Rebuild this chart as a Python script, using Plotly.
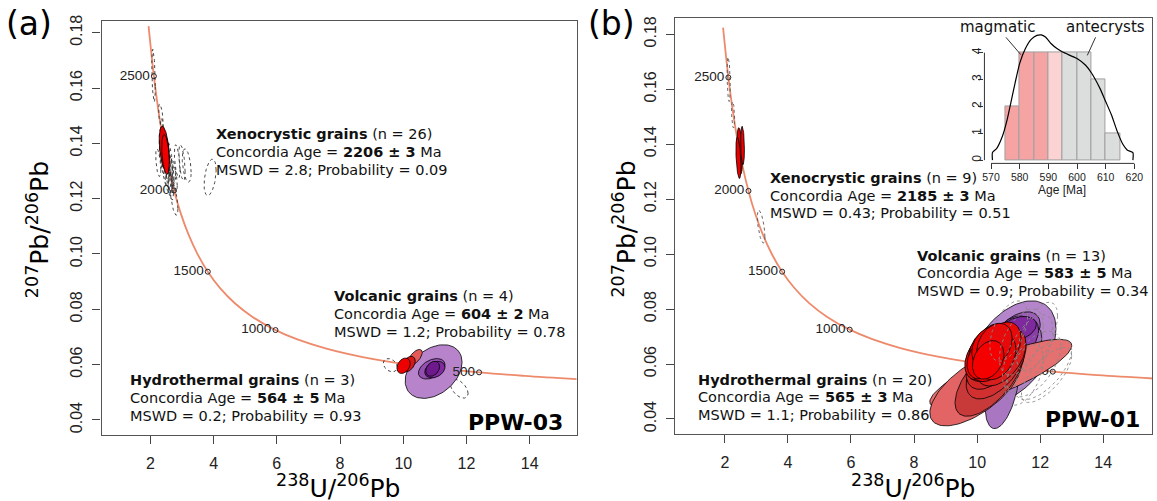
import numpy as np
import plotly.graph_objects as go

W, H = 1157, 501

# ---------------- concordia curve (Tera-Wasserburg) ----------------
conc_age = [2675, 2650, 2500, 2375, 2250, 2125, 2000, 1875, 1750, 1625, 1500, 1375,
            1250, 1125, 1000, 900, 800, 700, 600, 500, 450, 400]
conc_x = [1.944, 1.967, 2.111, 2.245, 2.394, 2.561, 2.749, 2.962, 3.206, 3.488, 3.817, 4.206,
          4.673, 5.245, 5.959, 6.674, 7.569, 8.718, 10.252, 12.399, 13.831, 15.621]
conc_y = [0.1824, 0.17968, 0.16428, 0.15258, 0.14187, 0.13202, 0.12299, 0.11469, 0.10706,
          0.10005, 0.09360, 0.08766, 0.08218, 0.07715, 0.07250, 0.06904, 0.06580, 0.06276,
          0.05990, 0.05722, 0.05594, 0.05470]

mark_age = ["2500", "2000", "1500", "1000", "500"]
mark_x = [2.111, 2.749, 3.817, 5.959, 12.399]
mark_y = [0.16428, 0.12299, 0.09360, 0.07250, 0.05722]

x_ticks = [2, 4, 6, 8, 10, 12, 14]
y_ticks = [0.04, 0.06, 0.08, 0.10, 0.12, 0.14, 0.16, 0.18]
y_tick_text = ["0.04", "0.06", "0.08", "0.10", "0.12", "0.14", "0.16", "0.18"]

# ---------------- panel (a) PPW-03 ellipses ----------------
a_xd_cx = [2.10, 2.33, 2.38, 2.45, 2.50, 2.55, 2.40, 2.60, 2.52, 2.62, 2.47, 2.68,
           2.58, 2.72, 2.85, 3.00, 3.15, 2.25, 2.58, 2.75, 2.65, 2.78, 3.89, 2.36]
a_xd_cy = [0.1645, 0.1500, 0.1440, 0.1400, 0.1380, 0.1360, 0.1350, 0.1340, 0.1320, 0.1310,
           0.1300, 0.1295, 0.1280, 0.1300, 0.1335, 0.1330, 0.1320, 0.1330, 0.1265, 0.1200,
           0.1245, 0.1270, 0.1277, 0.1390]
a_xd_sx = [0.055, 0.07, 0.06, 0.10, 0.09, 0.08, 0.12, 0.10, 0.09, 0.08, 0.10, 0.07,
           0.09, 0.08, 0.09, 0.10, 0.14, 0.08, 0.12, 0.12, 0.08, 0.07, 0.19, 0.08]
a_xd_sy = [0.0095, 0.0042, 0.0050, 0.0060, 0.0055, 0.0060, 0.0070, 0.0065, 0.0060, 0.0055,
           0.0058, 0.0050, 0.0060, 0.0045, 0.0060, 0.0065, 0.0060, 0.0050, 0.0055, 0.0060,
           0.0050, 0.0045, 0.0066, 0.0060]
a_xd_r = [-0.4, -0.5, -0.5, -0.6, -0.5, -0.6, -0.6, -0.5, -0.55, -0.5, -0.6, -0.5,
          -0.6, -0.4, -0.5, -0.5, -0.4, -0.5, -0.5, -0.6, -0.5, -0.5, 0.4, -0.5]

a_xr_cx = [2.44, 2.48]
a_xr_cy = [0.1380, 0.1360]
a_xr_sx = [0.16, 0.12]
a_xr_sy = [0.0082, 0.0072]
a_xr_r = [-0.4, -0.35]
a_xr_col = ["#e00000", "#f00000"]

a_vd_cx = [9.59, 11.77]
a_vd_cy = [0.0598, 0.0513]
a_vd_sx = [0.22, 0.28]
a_vd_sy = [0.0024, 0.0034]
a_vd_r = [-0.3, -0.5]

a_v_cx = [10.96, 10.90, 11.00, 10.93]
a_v_cy = [0.0575, 0.0585, 0.0582, 0.0585]
a_v_sx = [0.90, 0.42, 0.32, 0.22]
a_v_sy = [0.0097, 0.0037, 0.0030, 0.0027]
a_v_r = [0.35, 0.4, 0.3, 0.3]
a_v_col = ["#b784cc", "#9450b0", "#7f2a9e", "#6e1a8c"]

a_h_cx = [10.38, 10.17, 10.01]
a_h_cy = [0.0627, 0.0602, 0.0596]
a_h_sx = [0.22, 0.21, 0.21]
a_h_sy = [0.0028, 0.0028, 0.0028]
a_h_r = [0.6, 0.4, 0.3]
a_h_col = ["#e45a5a", "#d61515", "#ee0000"]

# ---------------- panel (b) PPW-01 ellipses ----------------
b_xd_cx = [2.12, 2.26, 3.15]
b_xd_cy = [0.1636, 0.1507, 0.1100]
b_xd_sx = [0.05, 0.05, 0.12]
b_xd_sy = [0.0081, 0.0048, 0.0060]
b_xd_r = [-0.3, -0.3, -0.6]

b_xr_cx = [2.47, 2.56, 2.43]
b_xr_cy = [0.1375, 0.1395, 0.1350]
b_xr_sx = [0.09, 0.06, 0.08]
b_xr_sy = [0.0085, 0.0070, 0.0075]
b_xr_r = [-0.3, -0.2, -0.4]
b_xr_col = ["#d80000", "#ee0000", "#e60000"]

b_v_cx = [11.10, 10.80, 10.60, 11.20, 11.00, 11.50, 11.10, 10.70, 10.90, 11.40, 10.60, 10.95, 11.28]
b_v_cy = [0.0645, 0.0520, 0.0580, 0.0700, 0.0680, 0.0650, 0.0620, 0.0600, 0.0665, 0.0690, 0.0630, 0.0590, 0.0728]
b_v_sx = [1.40, 0.55, 0.65, 0.80, 0.70, 0.55, 0.60, 0.60, 0.60, 0.55, 0.55, 0.50, 0.60]
b_v_sy = [0.0185, 0.0155, 0.0105, 0.0090, 0.0095, 0.0090, 0.0090, 0.0095, 0.0080, 0.0075, 0.0080, 0.0075, 0.0045]
b_v_r = [0.45, 0.45, 0.50, 0.50, 0.50, 0.50, 0.50, 0.45, 0.45, 0.45, 0.40, 0.45, 0.35]
b_v_col = ["#b585cb", "#a977c2", "#ad75c3", "#9b5db5", "#a26cbc", "#a56abd", "#a062ba",
           "#9a58b4", "#8f47ab", "#8a3fa8", "#9450ae", "#8c44a9", "#7e2a9e"]

b_h_cx = [10.75, 9.95, 10.40, 10.60, 10.50, 10.75, 10.35, 10.60, 10.45, 10.25,
          10.75, 10.40, 10.55, 10.30, 10.45, 10.65, 10.20, 10.35, 10.55, 10.35]
b_h_cy = [0.0565, 0.0510, 0.0550, 0.0595, 0.0620, 0.0625, 0.0635, 0.0645, 0.0655, 0.0630,
          0.0665, 0.0620, 0.0640, 0.0650, 0.0635, 0.0625, 0.0620, 0.0660, 0.0670, 0.0615]
b_h_sx = [2.25, 1.45, 1.10, 0.95, 0.85, 0.80, 0.72, 0.70, 0.66, 0.64,
          0.64, 0.62, 0.60, 0.56, 0.55, 0.58, 0.52, 0.52, 0.56, 0.50]
b_h_sy = [0.0125, 0.0135, 0.0140, 0.0122, 0.0112, 0.0105, 0.0098, 0.0095, 0.0092, 0.0088,
          0.0088, 0.0084, 0.0082, 0.0080, 0.0078, 0.0082, 0.0074, 0.0074, 0.0078, 0.0070]
b_h_r = [0.82, 0.65, 0.65, 0.55, 0.50, 0.45, 0.40, 0.40, 0.35, 0.40,
         0.35, 0.35, 0.30, 0.30, 0.30, 0.35, 0.30, 0.25, 0.30, 0.30]
b_h_col = ["#e57070", "#e36464", "#c83a3a", "#d23030", "#cf2525", "#d91e1e", "#e01515",
           "#e31010", "#e50c0c", "#e80808", "#e60a0a", "#ec0505", "#ee0303", "#f00000",
           "#f00000", "#ea0505", "#f20000", "#f20000", "#e80a0a", "#f40000"]

b_d_cx = [11.60, 11.80, 11.40, 12.10, 11.00, 11.90, 12.20, 11.50]
b_d_cy = [0.0640, 0.0600, 0.0680, 0.0580, 0.0720, 0.0700, 0.0560, 0.0560]
b_d_sx = [0.80, 0.85, 0.70, 0.90, 0.60, 0.65, 0.80, 0.60]
b_d_sy = [0.0140, 0.0120, 0.0120, 0.0110, 0.0110, 0.0125, 0.0100, 0.0110]
b_d_r = [0.60, 0.55, 0.50, 0.65, 0.50, 0.60, 0.70, 0.50]

# ---------------- inset histogram ----------------
hist_lo = [575, 580, 585, 590, 595, 600, 605, 610]
hist_counts = [2, 4, 4, 4, 4, 4, 3, 1]
hist_col = ["#f5a3a3", "#f5a3a3", "#f5a3a3", "#fbd3d3", "#dcdddd", "#dcdddd", "#dcdddd", "#dcdddd"]
kde_age = [570.5, 570.5, 572, 574, 575.5, 577, 578.5, 580, 582, 584, 586, 587.5, 589, 591,
           593, 595, 600, 603, 605, 608, 610, 612, 614, 616, 617.5, 619.5, 619.5]
kde_val = [0.0, 0.28, 0.44, 0.90, 1.45, 2.18, 2.92, 3.60, 4.15, 4.49, 4.64, 4.66, 4.58, 4.33,
           4.15, 4.02, 3.78, 3.53, 3.25, 2.67, 2.18, 1.69, 1.08, 0.59, 0.38, 0.28, 0.0]
inset_xticks = [570, 580, 590, 600, 610, 620]
inset_yticks = [0, 1, 2, 3, 4]

# ---------------- helpers ----------------
def ell(cx, cy, sx, sy, r, n=100):
    t = np.linspace(0, 2 * np.pi, n)
    x = cx + sx * np.cos(t)
    y = cy + sy * (r * np.cos(t) + np.sqrt(1 - r * r) * np.sin(t))
    return x, y

fig = go.Figure()

def add_ells(cxs, cys, sxs, sys_, rs, xa, ya, cols=None, dashed=False, dcol="#333333"):
    for i in range(len(cxs)):
        x, y = ell(cxs[i], cys[i], sxs[i], sys_[i], rs[i])
        if dashed:
            fig.add_trace(go.Scatter(x=x, y=y, mode="lines", xaxis=xa, yaxis=ya,
                                     line=dict(color=dcol, width=0.9, dash="dot"),
                                     hoverinfo="skip", showlegend=False))
        else:
            fig.add_trace(go.Scatter(x=x, y=y, mode="lines", fill="toself", xaxis=xa, yaxis=ya,
                                     fillcolor=cols[i], line=dict(color="black", width=0.8),
                                     hoverinfo="skip", showlegend=False))

def add_conc(xa, ya):
    fig.add_trace(go.Scatter(x=conc_x, y=conc_y, mode="lines", xaxis=xa, yaxis=ya,
                             line=dict(color="#ee8a6c", width=1.8, shape="spline"),
                             hoverinfo="skip", showlegend=False))

def add_marks(xa, ya):
    fig.add_trace(go.Scatter(x=mark_x, y=mark_y, mode="markers+text", xaxis=xa, yaxis=ya,
                             text=mark_age, textposition="middle left",
                             textfont=dict(family="Liberation Sans", size=13.5, color="#222"),
                             marker=dict(symbol="circle-open", size=5, color="#222",
                                         line=dict(width=1, color="#222")),
                             hoverinfo="skip", showlegend=False, cliponaxis=False))

# panel (a)
add_conc("x", "y")
add_ells(a_xd_cx, a_xd_cy, a_xd_sx, a_xd_sy, a_xd_r, "x", "y", dashed=True)
add_ells(a_xr_cx, a_xr_cy, a_xr_sx, a_xr_sy, a_xr_r, "x", "y", cols=a_xr_col)
add_ells(a_vd_cx, a_vd_cy, a_vd_sx, a_vd_sy, a_vd_r, "x", "y", dashed=True)
add_ells(a_v_cx, a_v_cy, a_v_sx, a_v_sy, a_v_r, "x", "y", cols=a_v_col)
add_ells(a_h_cx, a_h_cy, a_h_sx, a_h_sy, a_h_r, "x", "y", cols=a_h_col)
add_marks("x", "y")

# panel (b)
add_conc("x2", "y2")
add_marks("x2", "y2")
add_ells(b_xd_cx, b_xd_cy, b_xd_sx, b_xd_sy, b_xd_r, "x2", "y2", dashed=True, dcol="#555")
add_ells(b_xr_cx, b_xr_cy, b_xr_sx, b_xr_sy, b_xr_r, "x2", "y2", cols=b_xr_col)
add_ells(b_v_cx, b_v_cy, b_v_sx, b_v_sy, b_v_r, "x2", "y2", cols=b_v_col)
add_ells(b_h_cx, b_h_cy, b_h_sx, b_h_sy, b_h_r, "x2", "y2", cols=b_h_col)
add_ells(b_d_cx, b_d_cy, b_d_sx, b_d_sy, b_d_r, "x2", "y2", dashed=True, dcol="#8a8a8a")

# inset histogram
fig.add_trace(go.Bar(x=[v + 2.5 for v in hist_lo], y=hist_counts, width=5, xaxis="x3", yaxis="y3",
                     marker=dict(color=hist_col, line=dict(color="#a0a0a0", width=1)),
                     hoverinfo="skip", showlegend=False))
fig.add_trace(go.Scatter(x=kde_age, y=kde_val, mode="lines", xaxis="x3", yaxis="y3",
                         line=dict(color="black", width=1.2, shape="spline", smoothing=0.6),
                         hoverinfo="skip", showlegend=False, cliponaxis=False))

# ---------------- axes ----------------
tickfont = dict(family="Liberation Sans", size=16, color="#222")
frame = dict(showline=True, mirror=True, linecolor="#555", linewidth=1.3, showgrid=False,
             zeroline=False, ticks="outside", ticklen=8, tickwidth=1.2, tickcolor="#444",
             tickfont=tickfont)

def pxX(px):
    return px / W

def pxY(py):
    return 1 - py / H

fig.update_layout(
    width=W, height=H, margin=dict(l=0, r=0, t=0, b=0), autosize=False,
    paper_bgcolor="white", plot_bgcolor="rgba(0,0,0,0)",
    xaxis=dict(domain=[pxX(100), pxX(577)], range=[0.4567, 15.48], tickvals=x_ticks,
               anchor="y", ticklabelstandoff=6, **frame),
    yaxis=dict(domain=[pxY(434), pxY(15)], range=[0.03464, 0.18429], tickvals=y_ticks,
               ticktext=y_tick_text, tickangle=-90, anchor="x", ticklabelstandoff=4, **frame),
    xaxis2=dict(domain=[pxX(676), pxX(1155)], range=[0.4212, 15.546], tickvals=x_ticks,
                anchor="y2", ticklabelstandoff=6, **frame),
    yaxis2=dict(domain=[pxY(433), pxY(11.7)], range=[0.0346, 0.18608], tickvals=y_ticks,
                ticktext=y_tick_text, tickangle=-90, anchor="x2", ticklabelstandoff=4, **frame),
    xaxis3=dict(domain=[pxX(986.7), pxX(1143)], range=[567.7, 622], tickvals=inset_xticks,
                anchor="y3", showline=False, showgrid=False, zeroline=False, ticks="outside",
                ticklen=5, tickcolor="#333", ticklabelstandoff=-1,
                tickfont=dict(family="Liberation Sans", size=10.5, color="#222")),
    yaxis3=dict(domain=[pxY(159.3), pxY(22.7)], range=[-0.12, 4.9], tickvals=inset_yticks,
                anchor="x3", showline=False, showgrid=False, zeroline=False, ticks="outside",
                ticklen=5, tickcolor="#333", tickangle=-90, ticklabelstandoff=-7,
                tickfont=dict(family="Liberation Sans", size=12, color="#222")),
    bargap=0,
)

# ---------------- annotations ----------------
ann = []
TF = "DejaVu Sans"

def text(px, py, s, size=14.5, xanchor="left", family=TF, angle=0, color="#111"):
    ann.append(dict(x=pxX(px), y=pxY(py), xref="paper", yref="paper", text=s, showarrow=False,
                    xanchor=xanchor, yanchor="middle", textangle=angle,
                    font=dict(family=family, size=size, color=color)))

def block(px, pys, title, n, age, mswd, prob):
    text(px, pys[0], "<b>%s</b> (n = %s)" % (title, n))
    text(px, pys[1], "Concordia Age = <b>%s</b> Ma" % age)
    text(px, pys[2], "MSWD = %s; Probability = %s" % (mswd, prob))

block(213, [130, 148, 166], "Xenocrystic grains", "26", "2206 ± 3", "2.8", "0.09")
block(331.7, [293.3, 311.5, 329.5], "Volcanic grains", "4", "604 ± 2", "1.2", "0.78")
block(126.7, [378.3, 396.5, 414.7], "Hydrothermal grains", "3", "564 ± 5", "0.2", "0.93")
text(565, 421.7, "<b>PPW-03</b>", size=22, xanchor="right", color="black")

block(769.3, [174, 191.8, 209.6], "Xenocrystic grains", "9", "2185 ± 3", "0.43", "0.51")
block(917.3, [252.7, 270.5, 288.3], "Volcanic grains", "13", "583 ± 5", "0.9", "0.34")
block(697.3, [378.3, 396, 413.7], "Hydrothermal grains", "20", "565 ± 3", "1.1", "0.86")
text(1145, 418.3, "<b>PPW-01</b>", size=22, xanchor="right", color="black")

text(27, 18, "(a)", size=33, xanchor="center", color="black")
text(612, 18, "(b)", size=33, xanchor="center", color="black")

text(338, 486, "<sup>238</sup>U/<sup>206</sup>Pb", size=25, xanchor="center", color="black")
text(915, 486, "<sup>238</sup>U/<sup>206</sup>Pb", size=25, xanchor="center", color="black")
text(36, 226, "<sup>207</sup>Pb/<sup>206</sup>Pb", size=25, xanchor="center", angle=-90, color="black")
text(625, 226, "<sup>207</sup>Pb/<sup>206</sup>Pb", size=25, xanchor="center", angle=-90, color="black")

text(1000, 21.7, "magmatic", size=15, xanchor="center", color="#111")
text(1108, 21, "antecrysts", size=15, xanchor="center", color="#111")
text(1065, 186, "Age [Ma]", size=12, xanchor="center", family="Liberation Sans", color="#222")

fig.update_layout(annotations=ann)

# leader lines and inset axis lines
shapes = [
    dict(type="line", xref="paper", yref="paper", x0=pxX(1008.3), y0=pxY(31.7),
         x1=pxX(1023.3), y1=pxY(49.3), line=dict(color="#333", width=1)),
    dict(type="line", xref="paper", yref="paper", x0=pxX(1098.3), y0=pxY(31.7),
         x1=pxX(1090), y1=pxY(50), line=dict(color="#333", width=1)),
    dict(type="line", xref="paper", yref="paper", x0=pxX(993.3), y0=pxY(159.3),
         x1=pxX(1137.3), y1=pxY(159.3), line=dict(color="#333", width=1)),
    dict(type="line", xref="paper", yref="paper", x0=pxX(986.7), y0=pxY(156),
         x1=pxX(986.7), y1=pxY(47.3), line=dict(color="#333", width=1)),
]
fig.update_layout(shapes=shapes)

fig.write_html("out.html")
